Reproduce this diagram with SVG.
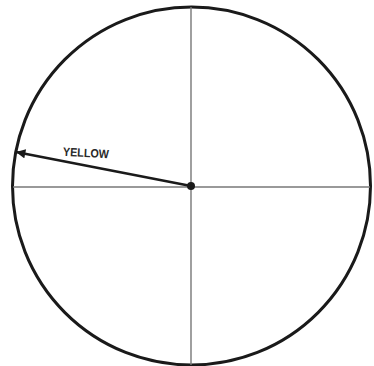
<svg xmlns="http://www.w3.org/2000/svg" width="374" height="366" viewBox="0 0 374 366">
<style>
.rim{fill:none;stroke:#1a1a1a;stroke-width:3}
.axis{stroke:#777;stroke-width:1.4}
.conn{stroke:#1a1a1a;stroke-width:2.6;fill:none}
.lbl{font-family:"Liberation Sans",Arial,sans-serif;font-size:12px;font-weight:bold;fill:#2a2a2a}
</style>
<defs>
<marker id="ah" viewBox="0 0 10 10" refX="10" refY="5" markerWidth="4" markerHeight="3.6" orient="auto" markerUnits="strokeWidth">
<path d="M10,5 L0,0 L0,10 Z" fill="#1a1a1a"/>
</marker>
</defs>
<rect width="374" height="366" fill="#fff"/>
<g id="dial">
<ellipse class="rim" cx="191.5" cy="186" rx="179" ry="179"/>
<line class="axis" x1="191" y1="7" x2="191" y2="365"/>
<line class="axis" x1="13" y1="187" x2="370" y2="187"/>
<circle cx="191" cy="186" r="4" fill="#1a1a1a"/>
</g>
<g id="connectors">
<line class="conn" x1="191" y1="186" x2="16" y2="152" marker-end="url(#ah)"/>
</g>
<g id="label">
<text class="lbl" x="63" y="157" textLength="46" lengthAdjust="spacingAndGlyphs" transform="rotate(3 86 152)">YELLOW</text>
</g>
</svg>
